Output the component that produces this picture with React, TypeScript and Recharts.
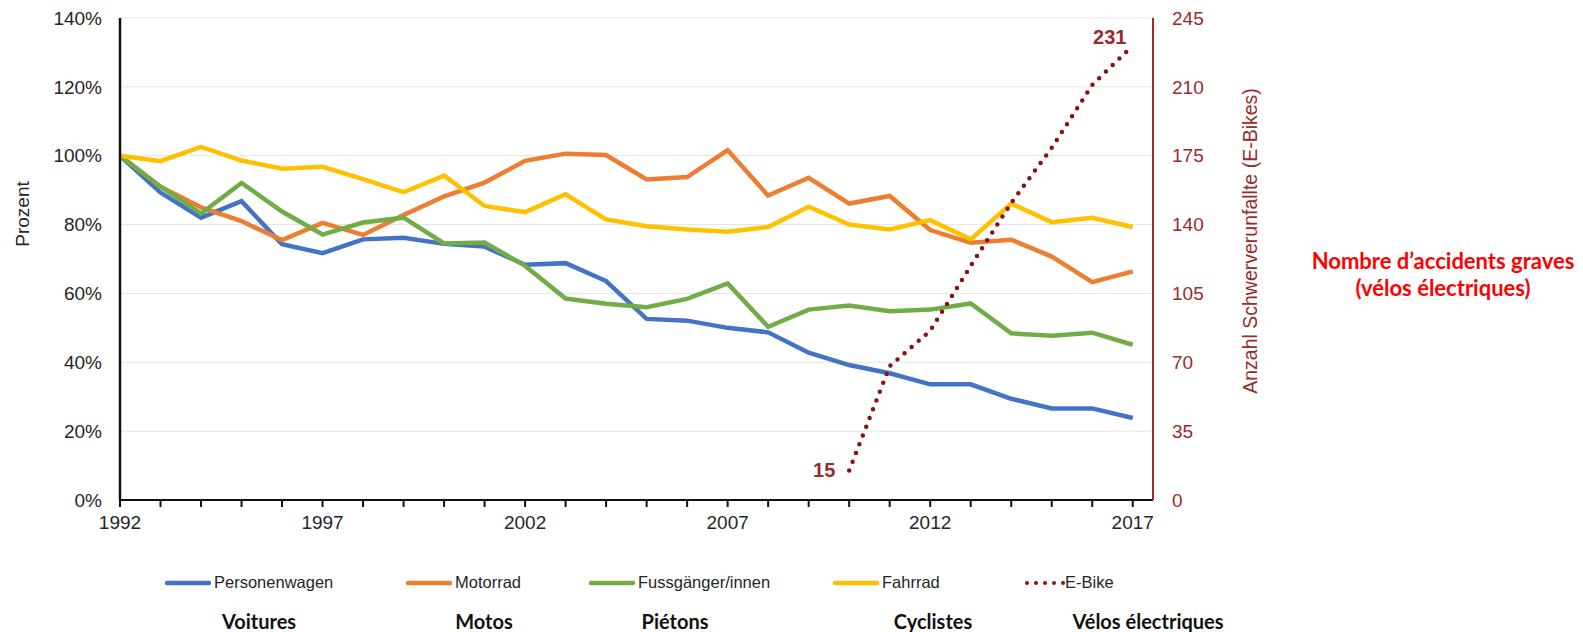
import React from 'react';
import { LineChart, Line, XAxis, YAxis, CartesianGrid, LabelList, Label } from 'recharts';

const years = [1992, 1993, 1994, 1995, 1996, 1997, 1998, 1999, 2000, 2001, 2002, 2003, 2004, 2005, 2006, 2007, 2008, 2009, 2010, 2011, 2012, 2013, 2014, 2015, 2016, 2017];
const personenwagen = [100, 89.3, 82, 86.8, 74.3, 71.7, 75.7, 76.2, 74.4, 73.6, 68.3, 68.8, 63.6, 52.6, 52.1, 50, 48.7, 42.8, 39.2, 36.8, 33.6, 33.6, 29.4, 26.6, 26.6, 23.8];
const motorrad = [100, 91, 85, 81, 75.5, 80.5, 77, 82.8, 88.2, 92.2, 98.5, 100.6, 100.2, 93.1, 93.8, 101.6, 88.4, 93.6, 86.1, 88.3, 78.4, 74.7, 75.6, 70.7, 63.3, 66.4];
const fussgaenger = [100, 91, 83.2, 92.1, 83.8, 77.1, 80.6, 82, 74.5, 74.8, 68, 58.5, 57, 56, 58.4, 62.9, 50.3, 55.3, 56.5, 54.8, 55.3, 57.1, 48.4, 47.7, 48.6, 45.1];
const fahrrad = [100, 98.4, 102.6, 98.6, 96.2, 96.8, 93.2, 89.4, 94.2, 85.4, 83.6, 88.8, 81.5, 79.5, 78.6, 77.9, 79.3, 85.2, 80, 78.6, 81.3, 75.7, 86.1, 80.7, 82, 79.3];
const eBikeYears = [2010, 2011, 2012, 2013, 2014, 2015, 2016, 2017];
const eBike = [15, 68, 86, 119, 151, 179, 211, 231];

const leftTicks = [0, 20, 40, 60, 80, 100, 120, 140];
const rightTicks = [0, 35, 70, 105, 140, 175, 210, 245];

const seriesNames = ['Personenwagen', 'Motorrad', 'Fussgänger/innen', 'Fahrrad', 'E-Bike'];
const frenchNames = ['Voitures', 'Motos', 'Piétons', 'Cyclistes', 'Vélos électriques'];

const COLORS = ['#4472c4', '#ed7d31', '#70ad47', '#ffc000', '#8b1010'];
const DARK_RED = '#9b2a2c';
const FONT = '"Liberation Sans", Arial, sans-serif';
const CAL = 'Lato, "Open Sans", sans-serif';

const data = years.map((year, i) => {
  const k = eBikeYears.indexOf(year);
  return {
    year,
    pw: personenwagen[i],
    mr: motorrad[i],
    fg: fussgaenger[i],
    fr: fahrrad[i],
    eb: k >= 0 ? eBike[k] : null,
  };
});

// layout of the html legend and the french captions under it
const legendLefts = [165, 406, 589, 833, 1025];
const frenchCenters = [259, 484, 675, 933, 1148];

function EBikeLabel(props: any) {
  const { x, y, value, index } = props;
  if (value == null) return null;
  const first = index === years.indexOf(eBikeYears[0]);
  const last = index === years.length - 1;
  if (!first && !last) return null;
  return (
    <text
      x={first ? x - 25 : x - 23}
      y={first ? y : y - 9}
      textAnchor="middle"
      dominantBaseline="central"
      fill={DARK_RED}
      fontFamily={FONT}
      fontWeight="bold"
      fontSize={20}
    >
      {value}
    </text>
  );
}

function LegendMark({ idx }: { idx: number }) {
  if (idx === 4) {
    return (
      <svg width={40} height={10} style={{ display: 'block', marginRight: -3 }}>
        <line x1={2} y1={5} x2={40} y2={5} stroke={COLORS[4]} strokeWidth={4} strokeDasharray="0 9" strokeLinecap="round" />
      </svg>
    );
  }
  return (
    <svg width={46} height={10} style={{ display: 'block' }}>
      <line x1={2} y1={5} x2={44} y2={5} stroke={COLORS[idx]} strokeWidth={4.5} strokeLinecap="round" />
    </svg>
  );
}

export default function App() {
  return (
    <div style={{ position: 'absolute', left: 0, top: 0, width: 1583, height: 632, background: '#fff' }}>
      <LineChart width={1583} height={632} data={data} margin={{ top: 18, right: 330, left: 0, bottom: 102 }}>
        <CartesianGrid yAxisId="left" vertical={false} stroke="#e4e4e4" strokeWidth={1} />
        <XAxis
          dataKey="year"
          type="number"
          domain={[1992, 2017.5]}
          ticks={years}
          interval={0}
          height={30}
          tickFormatter={(v: number) => ((v - 1992) % 5 === 0 ? String(v) : '')}
          axisLine={{ stroke: '#111', strokeWidth: 2 }}
          tickLine={{ stroke: '#111', strokeWidth: 2 }}
          tickSize={7}
          tickMargin={9}
          tick={{ fill: '#262626', fontSize: 19, fontFamily: FONT }}
        />
        <YAxis
          yAxisId="left"
          domain={[0, 140]}
          ticks={leftTicks}
          width={120}
          tickFormatter={(v: number) => `${v}%`}
          axisLine={{ stroke: '#111', strokeWidth: 2.5 }}
          tickLine={false}
          tickSize={0}
          tickMargin={18}
          tick={{ fill: '#262626', fontSize: 19, fontFamily: FONT }}
        >
          <Label
            content={() => (
              <text x={22} y={214} transform="rotate(-90 22 214)" textAnchor="middle" dominantBaseline="central" fill="#262626" fontSize={19} fontFamily={FONT}>
                Prozent
              </text>
            )}
          />
        </YAxis>
        <YAxis
          yAxisId="right"
          orientation="right"
          domain={[0, 245]}
          ticks={rightTicks}
          width={100}
          axisLine={{ stroke: DARK_RED, strokeWidth: 2 }}
          tickLine={false}
          tickSize={0}
          tickMargin={19}
          tick={{ fill: DARK_RED, fontSize: 19, fontFamily: FONT }}
        >
          <Label
            content={() => (
              <text x={1250} y={241} transform="rotate(-90 1250 241)" textAnchor="middle" dominantBaseline="central" fill={DARK_RED} fontSize={19.5} fontFamily={FONT}>
                Anzahl Schwerverunfallte (E-Bikes)
              </text>
            )}
          />
        </YAxis>
        <Line yAxisId="left" type="linear" dataKey="pw" name={seriesNames[0]} stroke={COLORS[0]} strokeWidth={4.5} dot={false} isAnimationActive={false} />
        <Line yAxisId="left" type="linear" dataKey="mr" name={seriesNames[1]} stroke={COLORS[1]} strokeWidth={4.5} dot={false} isAnimationActive={false} />
        <Line yAxisId="left" type="linear" dataKey="fg" name={seriesNames[2]} stroke={COLORS[2]} strokeWidth={4.5} dot={false} isAnimationActive={false} />
        <Line yAxisId="left" type="linear" dataKey="fr" name={seriesNames[3]} stroke={COLORS[3]} strokeWidth={4.5} dot={false} isAnimationActive={false} />
        <Line
          yAxisId="right"
          type="linear"
          dataKey="eb"
          name={seriesNames[4]}
          stroke={COLORS[4]}
          strokeWidth={4.5}
          strokeDasharray="0 9.4"
          strokeLinecap="round"
          dot={false}
          connectNulls={false}
          isAnimationActive={false}
        >
          <LabelList dataKey="eb" content={EBikeLabel} />
        </Line>
      </LineChart>

      {seriesNames.map((n, i) => (
        <div
          key={n}
          style={{ position: 'absolute', left: legendLefts[i], top: 573, display: 'flex', alignItems: 'center', gap: 3, fontFamily: FONT, fontSize: 16.5, color: '#262626', whiteSpace: 'nowrap' }}
        >
          <LegendMark idx={i} />
          <span>{n}</span>
        </div>
      ))}

      {frenchNames.map((n, i) => (
        <div
          key={n}
          style={{ position: 'absolute', left: frenchCenters[i] - 150, width: 300, top: 607, textAlign: 'center', fontFamily: CAL, fontWeight: 700, fontSize: 20, color: '#111', lineHeight: '28px' }}
        >
          {n}
        </div>
      ))}

      <div style={{ position: 'absolute', left: 1443 - 170, width: 340, top: 247, textAlign: 'center', fontFamily: CAL, fontWeight: 700, fontSize: 22, color: '#ff0000', lineHeight: '27px' }}>
        Nombre d’accidents graves
        <br />
        (vélos électriques)
      </div>
    </div>
  );
}
